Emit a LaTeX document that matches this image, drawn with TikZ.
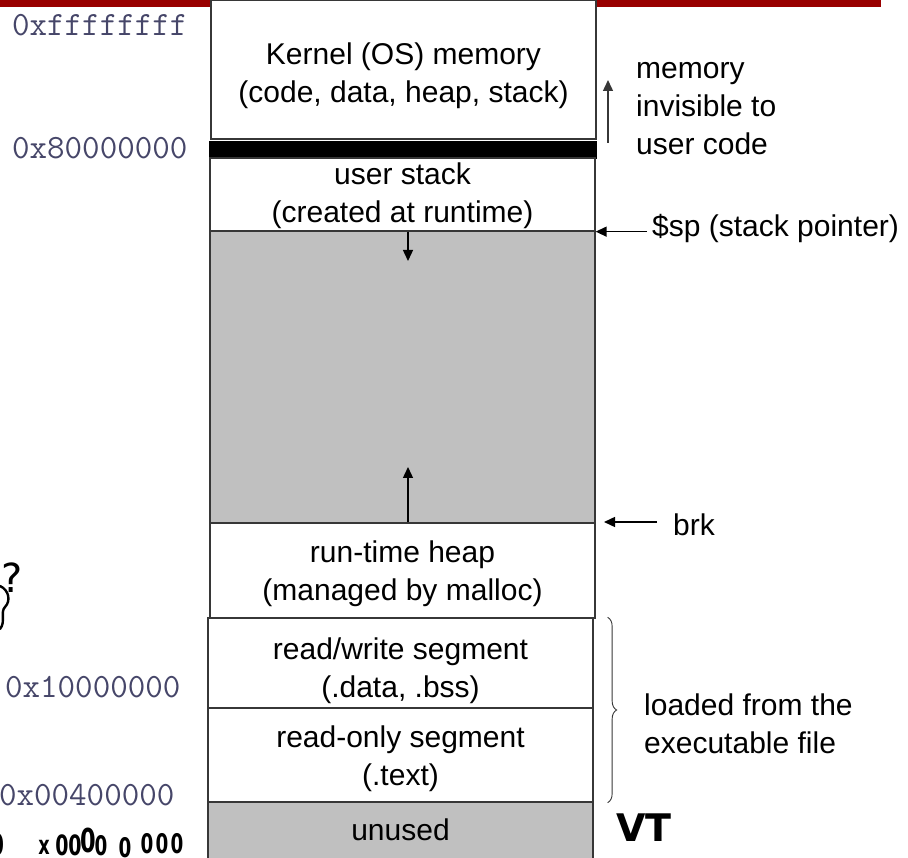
\documentclass[tikz,border=0pt]{standalone}
\usepackage{fontspec}
\setmainfont{Liberation Sans}
\newfontfamily\handfont{DejaVu Sans}
\newfontfamily\handboldfont{DejaVu Sans Bold}
\usetikzlibrary{arrows.meta,decorations.pathreplacing}

\definecolor{slidered}{RGB}{153,0,0}
\definecolor{gapgrey}{RGB}{192,192,192}
\definecolor{edgegrey}{RGB}{55,55,55}
\definecolor{addrink}{RGB}{70,70,105}

\newcommand\segfont{\fontsize{30}{38}\selectfont}
\newcommand\addrfont{\fontsize{34}{40}\ttfamily}

\begin{document}
\begin{tikzpicture}[x=1pt,y=-1pt,
  seg/.style={draw=edgegrey,line width=1.3pt,fill=white,inner sep=0pt,
    minimum width=385pt},
  gapseg/.style={seg,fill=gapgrey},
  segtext/.style={inner sep=0pt,align=center,font=\segfont},
  addr/.style={anchor=west,inner sep=0pt,text=addrink,font=\addrfont},
  note/.style={anchor=west,inner sep=0pt,align=left,font=\segfont},
  growarrow/.style={line width=1.4pt,-{Triangle[length=11pt,width=10pt]}},
  ptr/.style={growarrow},
  bracestyle/.style={decorate,decoration={brace,amplitude=9pt},
    draw=edgegrey,line width=0.9pt},
  hand/.style={inner sep=0pt,font=\handfont},
  handline/.style={line width=2.4pt,line cap=round,line join=round},
]
\useasboundingbox (0,0) rectangle (908,858);

% title rule of the slide
\fill[slidered] (0,0) rectangle (881,7);

% address space, top to bottom
\node[seg,minimum height=139pt] (kernel) at (403.5,69.5) {};
\node[seg,fill=black,draw=black,minimum width=386pt,minimum height=16pt] (guard) at (403,150) {};
\node[seg,minimum height=73pt] (stack) at (402.5,194.5) {};
\node[gapseg,minimum height=292pt] (gap) at (402.5,377) {};
\node[seg,minimum height=95pt] (heap) at (402.5,570.5) {};
\node[seg,minimum height=90pt] (rw) at (400.5,663) {};
\node[seg,minimum height=94pt] (ro) at (400.5,755) {};
\node[gapseg,minimum height=58pt] (unused) at (400.5,831) {};

% segment captions
\node[segtext] (kernel-t) at ([yshift=-6pt]kernel.center) {Kernel (OS) memory\\(code, data, heap, stack)};
\node[segtext] (stack-t) at ([yshift=-1pt]stack.center) {user stack\\(created at runtime)};
\node[segtext] (heap-t) at ([yshift=-3pt]heap.center) {run-time heap\\(managed by malloc)};
\node[segtext] (rw-t) at ([yshift=-8pt]rw.center) {read/write segment\\(.data, .bss)};
\node[segtext] (ro-t) at ([yshift=-4pt]ro.center) {read-only segment\\(.text)};
\node[segtext] (unused-t) at (unused.center |- 0,830) {unused};

% growth directions of stack and heap
\coordinate (stackgrow) at (408,261);
\coordinate (heapgrow) at (408,467);
\draw[growarrow] (stack.south -| stackgrow) -- (stackgrow);
\draw[growarrow] (heap.north -| heapgrow) -- (heapgrow);

% addresses
\node[addr] (atop) at (12,25) {0xffffffff};
\node[addr] (akern) at (12,148) {0x80000000};
\node[addr] (adata) at (5,687) {0x10000000};
\node[addr] (atext) at (-1,795) {0x00400000};

% kernel region note
\node[note] (hidden) at (636,109) {memory\\invisible to\\user code};
\coordinate (kupfoot) at (608,143);
\coordinate (kuptip) at (608,80);
\draw[growarrow,draw=edgegrey] (kupfoot) -- (kuptip);

% stack pointer and break
\node[note,inner xsep=5pt] (sp) at (647,229) {\$sp (stack pointer)};
\draw[ptr] (sp.west |- stack.south east) -- (stack.south east);
\node[note,inner xsep=16pt] (brk) at (657,525) {brk};
\coordinate (brktip) at (604,522);
\draw[ptr] (brk.west |- brktip) -- (brktip);

% segments loaded from the file
\draw[bracestyle] ([xshift=14pt]rw.north east) -- ([xshift=14pt]ro.south east);
\node[note] (loaded) at (644,724) {loaded from the\\executable file};

% pen annotations
\foreach \ch/\px/\py/\sz [count=\k] in
  {0/-3/845/30, x/44/847/26, 0/62/845/28, 0/75/845/28, 0/88/840/33,
   0/101/846/27, 0/125/848/27, 0/147/844/27, 0/162/844/27, 0/177/844/27}
  \node[hand,xscale=0.68,transform shape]
    (pen\k) at (\px,\py) {\handboldfont\fontsize{\sz pt}{\sz pt}\selectfont\ch};
\node[hand,font=\handboldfont\fontsize{38}{40}\selectfont] (vt) at (644,828) {VT};
\node[hand,font=\handfont\fontsize{40}{42}\selectfont] (query) at (12,578) {?};
\draw[handline] (0,586) .. controls (9,590) and (11,601) .. (5,607)
  .. controls (0,612) and (6,622) .. (0,629);
\end{tikzpicture}
\end{document}
